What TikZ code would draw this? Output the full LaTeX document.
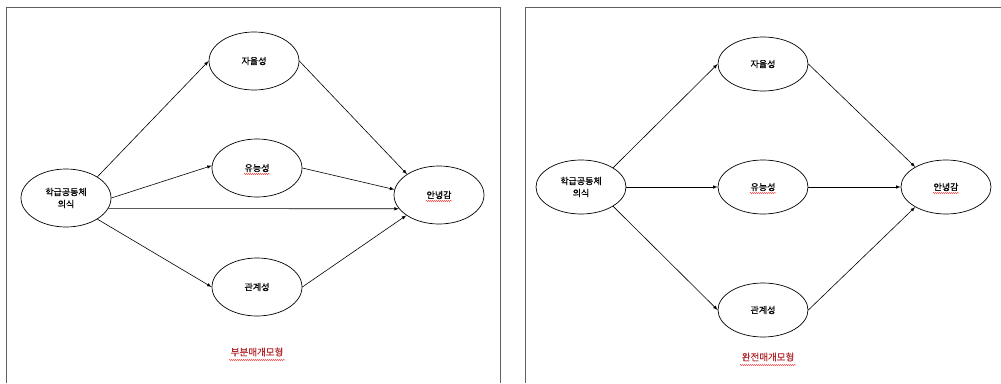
\documentclass[tikz,border=0pt]{standalone}
\usepackage{fontspec}
\setmainfont{Noto Sans CJK KR}[FakeBold=0.8]
\usepackage{tikz}
\usetikzlibrary{arrows,shapes.geometric,decorations.pathmorphing}
\colorlet{cadre}{gray!75!black}
\definecolor{titre}{HTML}{B0282C}

\begin{document}
\begin{tikzpicture}[x=1pt,y=-1pt,
  var/.style={ellipse,draw,line width=0.7pt,inner sep=0pt,minimum width=90pt,minimum height=58pt,align=center,font=\fontsize{9}{12}\selectfont},
  fleche/.style={-latex,line width=0.6pt},
  spell/.style={red!80,line width=0.4pt,decorate,decoration={snake,amplitude=0.6pt,segment length=2pt}}]%
\useasboundingbox (0,0) rectangle (1001,383);%%
%%CADRES
\draw[cadre,line width=0.8pt] (6,383)--(6,7)--(500,7)--(500,383);%%
\draw[cadre,line width=0.8pt] (525,383)--(525,7.5)--(1001,7.5);%%
%%MODELE PARTIEL
\node[var] (h1) at (66,198) {학급공동체\\의식}; %%
\node[var] (j1) at (254,61) {자율성}; %%
\node[var] (u1) at (257,168) {유능성}; %%
\node[var] (g1) at (257,287) {관계성}; %%
\node[var] (a1) at (439,195) {안녕감}; %%
\node[font=\fontsize{9.5}{12}\selectfont,text=titre] (t1) at (257,352) {부분매개모형}; %%
\draw[fleche] (h1.34)--(j1.west); %%
\draw[fleche] (h1.east)--(u1.177); %%
\draw[fleche] (h1.-14)--(a1.199); %%
\draw[fleche] (h1.-34)--(g1.west); %%
\draw[fleche] (j1.east)--(a1.147); %%
\draw[fleche] (u1.east)--(a1.173); %%
\draw[fleche] (g1.east)--(a1.212); %%
%%MODELE COMPLET
\begin{scope}[var/.append style={minimum height=54pt}]
\node[var] (h2) at (581,187) {학급공동체\\의식}; %%
\node[var] (j2) at (763,64) {자율성}; %%
\node[var] (u2) at (763,187) {유능성}; %%
\node[var] (g2) at (763,310) {관계성}; %%
\node[var] (a2) at (946,187) {안녕감}; %%
\end{scope}
\node[font=\fontsize{9.5}{12}\selectfont,text=titre] (t2) at (768,357) {완전매개모형}; %%
\draw[fleche] (h2.31)--(j2.west); %%
\draw[fleche] (h2.east)--(u2.west); %%
\draw[fleche] (h2.-31)--(g2.west); %%
\draw[fleche] (j2.east)--(a2.147); %%
\draw[fleche] (u2.east)--(a2.west); %%
\draw[fleche] (g2.east)--(a2.213); %%
%%SOULIGNEMENTS
\foreach \n in {u1,a1,u2,a2}
  \draw[spell] (\n.center) ++(-13,6) -- ++(26,0);
\foreach \n in {t1,t2}
  \draw[spell] (\n.center) ++(-28,8) -- ++(56,0);
\end{tikzpicture}
\end{document}
